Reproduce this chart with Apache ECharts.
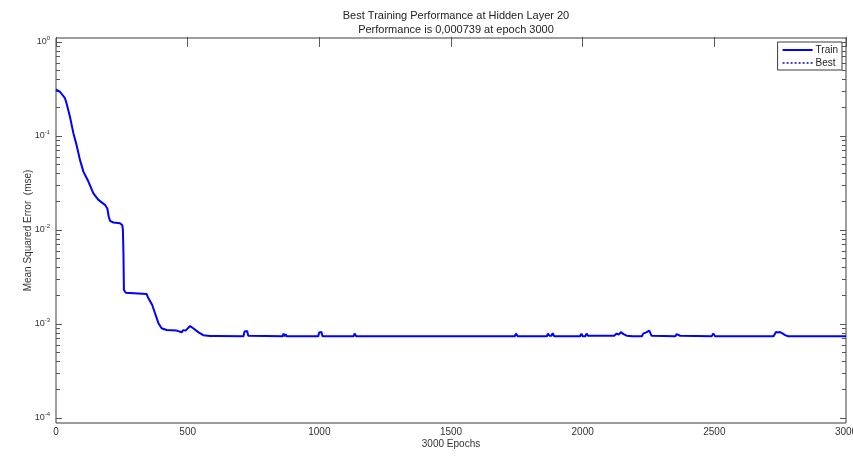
<!DOCTYPE html>
<html>
<head>
<meta charset="utf-8">
<script src="https://cdn.jsdelivr.net/npm/echarts@6/dist/echarts.min.js"></script>
<style>
html,body{margin:0;padding:0;background:#ffffff;}
#chart{width:853px;height:458px;}
</style>
</head>
<body>
<div id="chart"></div>
<script>
// ---- data ----
const titleLines = ['Best Training Performance at Hidden Layer 20', 'Performance is 0,000739 at epoch 3000'];
const xTicks = [0, 500, 1000, 1500, 2000, 2500, 3000];
const yDecades = [-4, -3, -2, -1, 0];
const trainEpochs = [0,15,34,40,53,66,78,91,104,123,142,161,186,195,200,205,218,243,252,254,256,258,265,271,344,350,357,365,376,389,401,420,458,477,483,487,492,498,509,515,521,540,559,585,600,604,608,712,716,726,730,735,860,864,868,872,876,996,999,1008,1012,1130,1134,1140,1238,1241,1245,1259,1262,1266,1376,1379,1383,1391,1394,1398,1497,1500,1504,1510,1512,1515,1622,1625,1628,1742,1747,1753,1864,1868,1874,1882,1886,1892,1990,1995,2000,2010,2015,2020,2120,2129,2137,2145,2155,2167,2190,2195,2225,2230,2236,2243,2249,2253,2258,2262,2268,2352,2357,2363,2370,2374,2490,2496,2503,2618,2623,2628,2725,2734,2742,2750,2760,2769,2780,2908,2914,2920,3000];
const trainMse = [0.31,0.295,0.252,0.223,0.16,0.107,0.080,0.0556,0.0417,0.0327,0.0245,0.0209,0.0185,0.0169,0.0140,0.0125,0.0120,0.0118,0.0112,0.0100,0.0060,0.0023,0.00215,0.00212,0.00209,0.0019,0.00182,0.0016,0.0013,0.00102,0.0009,0.000863,0.00085,0.000816,0.00086,0.00088,0.00085,0.00086,0.00095,0.00092,0.0009,0.00082,0.00076,0.000745,0.000745,0.00078,0.000745,0.00074,0.00083,0.00084,0.00075,0.00074,0.00074,0.00079,0.00074,0.00078,0.00074,0.00074,0.00081,0.00082,0.00074,0.00074,0.00079,0.00074,0.00074,0.00077,0.00074,0.00074,0.00077,0.00074,0.00074,0.00076,0.00074,0.00074,0.00076,0.00074,0.00074,0.00076,0.00074,0.00074,0.00076,0.00074,0.00074,0.00075,0.00074,0.00074,0.00079,0.00074,0.00074,0.00079,0.00075,0.00075,0.0008,0.00074,0.00074,0.00079,0.00074,0.00074,0.00079,0.00075,0.00075,0.00079,0.00077,0.00082,0.00078,0.00075,0.00074,0.00074,0.00074,0.00079,0.00077,0.00082,0.00079,0.00085,0.00079,0.00075,0.00074,0.00074,0.00078,0.00075,0.00075,0.00074,0.00074,0.00079,0.00074,0.00074,0.00076,0.00074,0.00074,0.00082,0.00081,0.00082,0.00079,0.00076,0.00074,0.00074,0.00075,0.00074,0.000739];
const bestEpochs = [3000];
const bestMse = [0.000739];
const yMin = 8.85e-5, yMax = 1.1;

// ---- build ----
const lg = v => Math.log10(v);
const minorTicks = [];
yDecades.slice(0, -1).forEach(d => { for (let k = 2; k <= 9; k++) minorTicks.push(d + Math.log10(k)); });
const trainData = trainEpochs.map((e, i) => [e, lg(trainMse[i])]);
const bestData = bestEpochs.map((e, i) => [e, lg(bestMse[i])]);

const frameColor = '#3c3c3c';
const tickColor = '#555';
const font = 'Liberation Sans, Arial, sans-serif';
const yBase = {
  type: 'value', min: lg(yMin), max: lg(yMax),
  splitLine: {show: false}, axisLine: {show: false}
};
const xBase = {type: 'value', min: 0, max: 3000, interval: 500, splitLine: {show: false}, axisLine: {show: false}};

const chart = echarts.init(document.getElementById('chart'), null, {renderer: 'canvas'});
chart.setOption({
  animation: false,
  backgroundColor: '#ffffff',
  title: {
    text: titleLines.join('\n'), left: 451, top: 4, textAlign: 'center',
    textStyle: {fontSize: 11, fontWeight: 'normal', color: '#222', fontFamily: font, lineHeight: 14}
  },
  legend: {
    right: 11, top: 42, orient: 'vertical', itemWidth: 30, itemHeight: 10, itemGap: 3,
    padding: [3, 4, 2, 4], borderColor: frameColor, borderWidth: 1, backgroundColor: '#fff',
    textStyle: {fontSize: 10, color: '#222', fontFamily: font, padding: [0, 0, 0, -2]},
    itemStyle: {opacity: 0},
    data: ['Train', 'Best']
  },
  grid: {left: 56, right: 7, top: 38, bottom: 35, show: true, borderColor: frameColor, borderWidth: 1, backgroundColor: '#fff', containLabel: false, outerBoundsMode: 'none'},
  xAxis: [
    Object.assign({}, xBase, {
      position: 'bottom',
      name: '3000 Epochs', nameLocation: 'middle', nameGap: 16, nameMoveOverlap: false,
      nameTextStyle: {fontSize: 10, color: '#333', fontFamily: font},
      axisTick: {inside: true, length: 5, lineStyle: {color: tickColor}},
      axisLabel: {fontSize: 10, color: '#333', fontFamily: font, margin: 4, customValues: xTicks, formatter: v => String(v)}
    }),
    Object.assign({}, xBase, {
      position: 'top',
      axisTick: {inside: true, length: 5, lineStyle: {color: tickColor}},
      axisLabel: {show: false}
    })
  ],
  yAxis: [
    Object.assign({}, yBase, {
      position: 'left',
      name: 'Mean Squared Error  (mse)', nameLocation: 'middle', nameGap: 23, nameRotate: 90, nameMoveOverlap: false,
      nameTextStyle: {fontSize: 10, color: '#333', fontFamily: font},
      axisTick: {inside: true, length: 6, lineStyle: {color: tickColor}, customValues: yDecades},
      axisLabel: {
        customValues: yDecades, margin: 6, color: '#333',
        formatter: v => '{b|10}{s|' + Math.round(v) + '}',
        rich: {
          b: {fontSize: 9, fontFamily: font, color: '#333'},
          s: {fontSize: 6, fontFamily: font, color: '#333', padding: [0, 0, 7, 0]}
        }
      }
    }),
    Object.assign({}, yBase, {
      position: 'left',
      axisTick: {inside: true, length: 4, lineStyle: {color: tickColor}, customValues: minorTicks},
      axisLabel: {show: false}
    }),
    Object.assign({}, yBase, {
      position: 'right',
      axisTick: {inside: true, length: 6, lineStyle: {color: tickColor}, customValues: yDecades},
      axisLabel: {show: false}
    }),
    Object.assign({}, yBase, {
      position: 'right',
      axisTick: {inside: true, length: 4, lineStyle: {color: tickColor}, customValues: minorTicks},
      axisLabel: {show: false}
    })
  ],
  series: [
    {
      name: 'Train', type: 'line', xAxisIndex: 0, yAxisIndex: 0, data: trainData,
      symbol: 'none', smooth: false, clip: true,
      lineStyle: {color: '#0000ff', width: 2}, itemStyle: {color: '#0000ff'}
    },
    {
      name: 'Best', type: 'line', xAxisIndex: 0, yAxisIndex: 0, data: bestData,
      symbol: 'none',
      lineStyle: {color: '#4a4ac0', width: 1, type: 'dotted'}, itemStyle: {color: '#4a4ac0'}
    }
  ]
});
</script>
</body>
</html>
